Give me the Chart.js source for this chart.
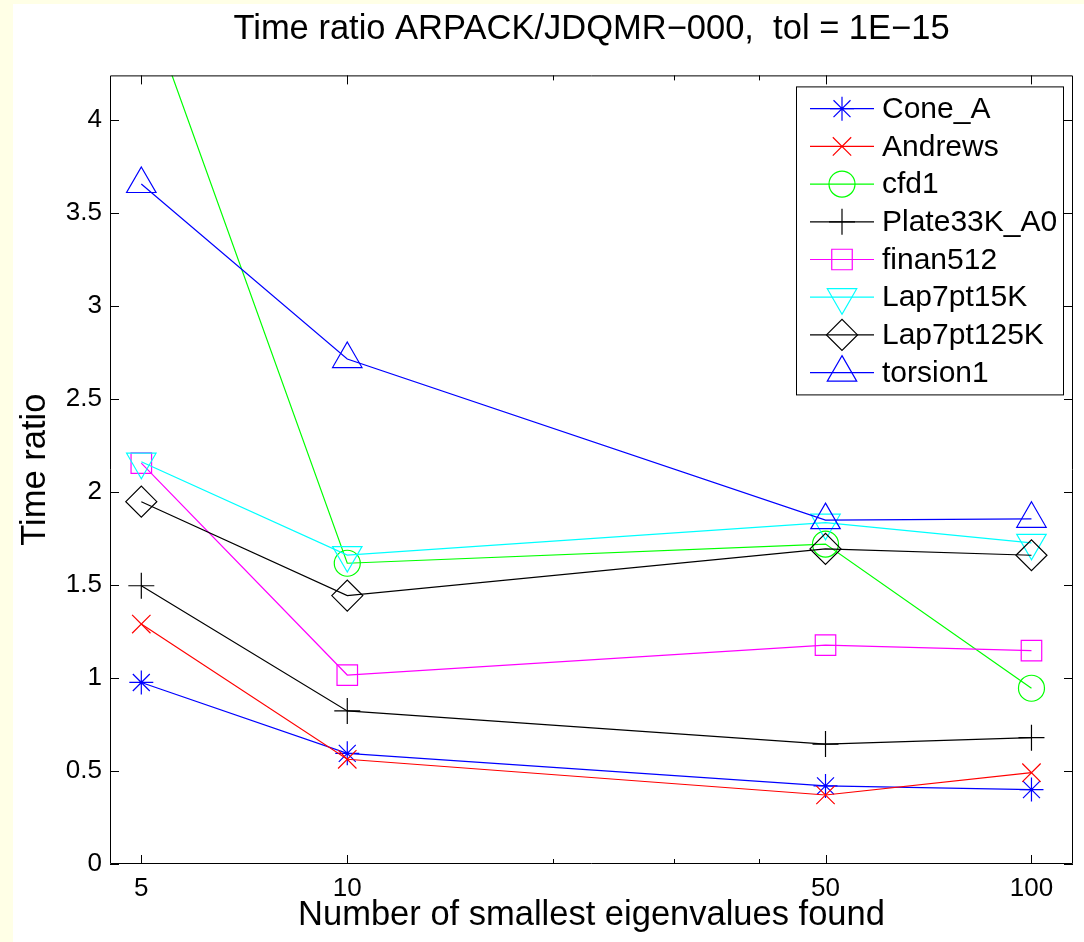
<!DOCTYPE html>
<html>
<head>
<meta charset="utf-8">
<title>Time ratio</title>
<script src="https://cdn.jsdelivr.net/npm/chart.js@4/dist/chart.umd.min.js"></script>
<style>
  html, body { margin: 0; padding: 0; background: #ffffe6; overflow: hidden; width: 1084px; height: 942px; }
  #wrap { position: absolute; left: 13px; top: 4px; width: 1071px; height: 938px; background: #fff; overflow: hidden; }
  #ratioChart { display: block; }
</style>
</head>
<body>
<div id="wrap"><canvas id="ratioChart" width="1071" height="938"></canvas></div>
<script>
// number of eigenvalues requested
const nev = [5, 10, 50, 100];

// ARPACK time / JDQMR time for each matrix
const coneA     = [0.976, 0.595, 0.420, 0.400];
const andrews   = [1.290, 0.563, 0.371, 0.491];
const cfd1      = [4.700, 1.617, 1.720, 0.945];
const plate33k  = [1.496, 0.823, 0.645, 0.679];
const finan512  = [2.155, 1.016, 1.177, 1.147];
const lap15k    = [2.163, 1.661, 1.835, 1.727];
const lap125k   = [1.948, 1.443, 1.694, 1.660];
const torsion1  = [3.656, 2.715, 1.849, 1.856];

const seriesNames = ['Cone_A', 'Andrews', 'cfd1', 'Plate33K_A0', 'finan512', 'Lap7pt15K', 'Lap7pt125K', 'torsion1'];
const seriesData = [coneA, andrews, cfd1, plate33k, finan512, lap15k, lap125k, torsion1];

// axis ticks
const xTicks = [5, 10, 50, 100];
const xMinorTicks = [20, 30, 40];
const yTicks = [0, 0.5, 1, 1.5, 2, 2.5, 3, 3.5, 4];

// marker looks, one per series
const colors = ['#0000ff', '#ff0000', '#00ff00', '#000000', '#ff00ff', '#00ffff', '#000000', '#0000ff'];
const markers = ['star', 'crossRot', 'circle', 'cross', 'rect', 'triangle', 'rectRot', 'triangle'];
const markerRot = [0, 0, 0, 0, 0, 180, 0, 0];
const markerSize = [12, 13, 13, 13, 14.5, 17, 15.5, 17];

const FONT = '"Liberation Sans", Arial, Helvetica, sans-serif';
Chart.defaults.font.family = FONT;
Chart.defaults.color = '#000';

const datasets = seriesData.map((vals, i) => ({
  label: seriesNames[i],
  data: vals.map((v, j) => ({ x: nev[j], y: v })),
  borderColor: colors[i],
  backgroundColor: 'rgba(0,0,0,0)',
  borderWidth: 1.2,
  pointStyle: markers[i],
  pointRotation: markerRot[i],
  pointRadius: markerSize[i],
  pointHoverRadius: markerSize[i],
  pointBorderWidth: 1.2,
  pointBorderColor: colors[i],
  pointBackgroundColor: 'rgba(0,0,0,0)',
  tension: 0,
  order: seriesData.length - i,  // later series end up on top
}));

// box around the axes with inward ticks
const frame = {
  id: 'frame',
  afterDatasetsDraw(chart) {
    const { ctx, chartArea: a, scales: { x, y } } = chart;
    ctx.save();
    ctx.strokeStyle = '#000';
    ctx.lineWidth = 1;
    ctx.beginPath();
    ctx.rect(a.left + 0.5, a.top + 0.5, a.right - a.left - 1, a.bottom - a.top - 1);
    const xTick = (v, len) => {
      const px = Math.round(x.getPixelForValue(v)) + 0.5;
      ctx.moveTo(px, a.bottom);
      ctx.lineTo(px, a.bottom - len);
      ctx.moveTo(px, a.top);
      ctx.lineTo(px, a.top + len);
    };
    xTicks.forEach(v => xTick(v, 9));
    xMinorTicks.forEach(v => xTick(v, 5));
    yTicks.forEach(v => {
      const py = Math.round(y.getPixelForValue(v)) + 0.5;
      ctx.moveTo(a.left, py);
      ctx.lineTo(a.left + 9, py);
      ctx.moveTo(a.right, py);
      ctx.lineTo(a.right - 9, py);
    });
    ctx.stroke();
    ctx.restore();
  }
};

// legend in the upper right corner, line + marker per entry
const boxLegend = {
  id: 'boxLegend',
  afterDraw(chart) {
    const { ctx, chartArea: a } = chart;
    const w = 267, h = 308;
    const left = a.right - 277, top = a.top + 11;
    ctx.save();
    ctx.fillStyle = '#fff';
    ctx.fillRect(left, top, w, h);
    ctx.strokeStyle = '#000';
    ctx.lineWidth = 1;
    ctx.strokeRect(left + 0.5, top + 0.5, w, h);

    chart.data.datasets.forEach((ds, i) => {
      const cy = top + 22.3 + i * 37.7;
      ctx.strokeStyle = ds.borderColor;
      ctx.lineWidth = 1.2;
      ctx.beginPath();
      ctx.moveTo(left + 14, cy);
      ctx.lineTo(left + 78, cy);
      ctx.stroke();
      ctx.fillStyle = 'rgba(0,0,0,0)';
      Chart.helpers.drawPoint(ctx, {
        pointStyle: ds.pointStyle,
        rotation: ds.pointRotation,
        radius: ds.pointRadius,
        borderWidth: 1.2
      }, left + 46, cy);
      ctx.fillStyle = '#000';
      ctx.font = '30px ' + FONT;
      ctx.textAlign = 'left';
      ctx.textBaseline = 'middle';
      ctx.fillText(ds.label, left + 86, cy + 1);
    });
    ctx.restore();
  }
};

const ratioChart = new Chart(document.getElementById('ratioChart'), {
  type: 'line',
  data: { datasets: datasets },
  options: {
    responsive: false,
    animation: false,
    events: [],
    // big markers would otherwise push the plot edges inward
    layout: { autoPadding: false, padding: { left: 0, right: 11, top: 0, bottom: 0 } },
    plugins: {
      legend: { display: false },
      tooltip: { enabled: false },
      title: {
        display: true,
        fullSize: false,
        text: 'Time ratio ARPACK/JDQMR\u2212000,  tol = 1E\u221215',
        color: '#000',
        font: { size: 34.5, weight: 'normal' },
        padding: { top: 5, bottom: 25 }
      }
    },
    scales: {
      x: {
        type: 'logarithmic',
        min: 4.5,
        max: 115,
        grid: { display: false, drawTicks: false },
        border: { display: false },
        afterBuildTicks: s => { s.ticks = xTicks.map(v => ({ value: v })); },
        afterFit: s => { s.height = 78; s.paddingLeft = 0; s.paddingRight = 0; },
        ticks: {
          autoSkip: false,
          maxRotation: 0,
          padding: 9,
          font: { size: 26 },
          callback: v => String(v)
        },
        title: {
          display: true,
          text: 'Number of smallest eigenvalues found',
          font: { size: 34.5 },
          padding: { top: 0, bottom: 6 }
        }
      },
      y: {
        type: 'linear',
        min: 0,
        max: 4.24,
        grid: { display: false, drawTicks: false },
        border: { display: false },
        afterBuildTicks: s => { s.ticks = yTicks.map(v => ({ value: v })); },
        afterFit: s => { s.width = 97; s.paddingTop = 0; s.paddingBottom = 0; },
        ticks: {
          padding: 8,
          font: { size: 26 },
          callback: v => String(v)
        },
        title: {
          display: true,
          text: 'Time ratio',
          font: { size: 34.5 },
          padding: { top: 2, bottom: 0 }
        }
      }
    }
  },
  plugins: [frame, boxLegend]
});
</script>
</body>
</html>
